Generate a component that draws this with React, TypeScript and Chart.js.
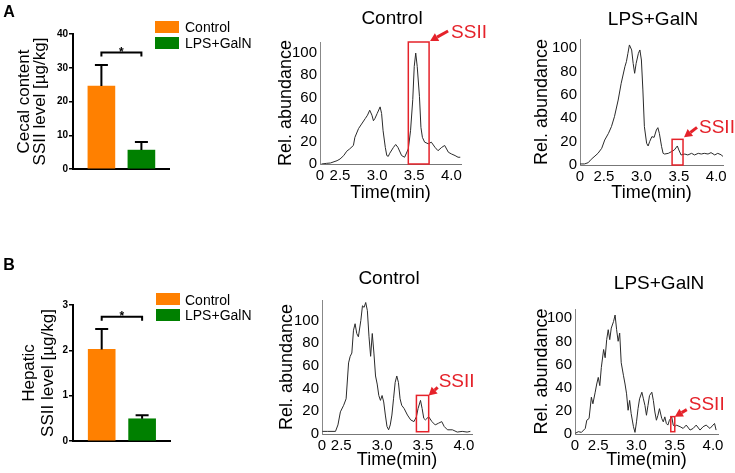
import React, { useEffect, useRef } from "react";
import { Chart, registerables } from "chart.js";

Chart.register(...registerables);

const FONT = "'Liberation Sans', Arial, Helvetica, sans-serif";
const RED = "#E5222A";
const ORANGE = "#FF8000";
const GREEN = "#008000";

// ---------- bar panels ----------
const groups = ["Control", "LPS+GalN"];
const groupPos = [1, 2];
const cecalMean = [24.6, 5.6];
const cecalErr = [6.2, 2.4];
const cecalTicks = [0, 10, 20, 30, 40];
const cecalSig = 34.5;
const hepaticMean = [2.02, 0.49];
const hepaticErr = [0.45, 0.08];
const hepaticTicks = [0, 1, 2, 3];
const hepaticSig = 2.74;

// ---------- chromatograms ----------
const timeTicks = [2.5, 3.0, 3.5, 4.0];
const abundTicks = [0, 20, 40, 60, 80, 100];

const aCtrlTime = [2.25, 2.32, 2.37, 2.46, 2.5, 2.55, 2.59, 2.63, 2.68, 2.7, 2.75, 2.79, 2.84, 2.87, 2.9, 2.93, 2.95, 2.97, 3.0, 3.04, 3.06, 3.08, 3.11, 3.13, 3.15, 3.17, 3.22, 3.25, 3.28, 3.33, 3.37, 3.42, 3.45, 3.48, 3.5, 3.52, 3.54, 3.57, 3.59, 3.61, 3.64, 3.69, 3.73, 3.78, 3.82, 3.87, 3.91, 3.96, 4.0, 4.05, 4.09, 4.12];
const aCtrlAbund = [0, 0.6, 0.9, 3, 4.5, 7.6, 11.5, 13.6, 16.7, 24, 32, 36, 41, 44, 48.5, 44, 39, 41, 45.5, 51.5, 45.5, 30, 15, 7.6, 6.9, 9.7, 15, 17.6, 15, 7.6, 6.1, 13.6, 30, 58, 88, 100, 88, 61, 33, 24, 19.7, 18.2, 19.7, 15, 12, 15, 16.7, 10.6, 9.1, 7.6, 6.1, 6.1];
const aCtrlWindow = [3.42, 3.7, 110, 0];

const aLpsTime = [2.18, 2.24, 2.29, 2.33, 2.38, 2.42, 2.47, 2.51, 2.56, 2.6, 2.64, 2.69, 2.73, 2.78, 2.8, 2.82, 2.84, 2.87, 2.89, 2.91, 2.93, 2.96, 2.98, 3.0, 3.02, 3.04, 3.07, 3.09, 3.11, 3.14, 3.17, 3.2, 3.22, 3.24, 3.27, 3.29, 3.31, 3.36, 3.4, 3.44, 3.48, 3.5, 3.53, 3.58, 3.62, 3.67, 3.71, 3.76, 3.8, 3.84, 3.89, 3.93, 3.98, 4.02, 4.07, 4.09];
const aLpsAbund = [0.9, 0.9, 2, 4.9, 7.7, 10, 14.3, 21.4, 27.1, 32.9, 41.4, 55.7, 70, 84.3, 88.6, 95.7, 102.9, 98.6, 87.1, 78.6, 87.1, 95.7, 98.6, 90, 64.3, 32.9, 18.6, 16.3, 20, 24.3, 23.7, 30, 32, 27.1, 15.7, 10, 9.4, 10, 11.4, 12.9, 16.3, 12.9, 8.6, 9.4, 8.6, 10, 8.6, 10, 9.4, 10, 9.4, 10.6, 8.6, 10, 8.6, 7.1];
const aLpsWindow = [3.41, 3.556, 22, 0];

const bCtrlTime = [2.27, 2.33, 2.43, 2.46, 2.49, 2.53, 2.56, 2.59, 2.61, 2.63, 2.65, 2.67, 2.69, 2.71, 2.74, 2.76, 2.78, 2.8, 2.82, 2.84, 2.86, 2.88, 2.9, 2.92, 2.94, 2.96, 2.98, 3.0, 3.02, 3.04, 3.06, 3.08, 3.1, 3.12, 3.14, 3.16, 3.18, 3.2, 3.22, 3.24, 3.27, 3.31, 3.35, 3.39, 3.42, 3.44, 3.47, 3.49, 3.51, 3.53, 3.57, 3.61, 3.65, 3.69, 3.73, 3.76, 3.8, 3.86, 3.92, 3.98, 4.04, 4.08];
const bCtrlAbund = [2.3, 2.3, 2.3, 8, 19.5, 25.3, 31, 62.6, 68.4, 71.3, 91.4, 97.1, 88.5, 85.6, 100, 112.9, 111.5, 115.8, 108.6, 85.6, 68.4, 88.5, 71.3, 51.1, 44, 33.9, 29.6, 33.9, 28.2, 16.7, 6.6, 3.7, 8, 16.7, 31, 45.4, 51.1, 45.4, 31, 25.3, 22.4, 16.7, 12.4, 10.9, 15.2, 22.4, 29.6, 22.4, 13.8, 12.4, 15.2, 10.9, 8, 9.5, 10.9, 6.6, 3.7, 3.7, 1.7, 2.3, 1.7, 2.3];
const bCtrlWindow = [3.42, 3.57, 34, 2];

const bLpsTime = [2.2, 2.24, 2.28, 2.33, 2.35, 2.38, 2.41, 2.43, 2.46, 2.48, 2.5, 2.52, 2.54, 2.57, 2.59, 2.61, 2.63, 2.65, 2.67, 2.7, 2.72, 2.74, 2.76, 2.78, 2.8, 2.83, 2.85, 2.87, 2.89, 2.91, 2.93, 2.96, 2.98, 3.0, 3.02, 3.04, 3.07, 3.09, 3.11, 3.13, 3.15, 3.17, 3.2, 3.22, 3.24, 3.26, 3.28, 3.3, 3.33, 3.35, 3.37, 3.39, 3.41, 3.43, 3.46, 3.48, 3.5, 3.52, 3.57, 3.61, 3.65, 3.7, 3.74, 3.78, 3.83, 3.87, 3.91, 3.96, 4.0, 4.02, 4.04];
const bLpsAbund = [0.6, 2, 1.4, 4.8, 11.9, 13.4, 31.8, 26.1, 36.1, 43.2, 48.9, 41.8, 57.4, 73, 65.9, 81.5, 90.1, 81.5, 91.5, 97.2, 102.8, 90.1, 80.1, 87.2, 61.6, 50.3, 43.2, 34.7, 20.5, 29, 17.6, 6.3, 1.4, 10.5, 21.9, 30.4, 36.1, 30.4, 24.7, 16.2, 24.7, 33.2, 36.1, 29, 19, 11.9, 16.2, 21.9, 13.4, 10.5, 14.8, 9.1, 7.7, 11.9, 14.8, 7.7, 6.3, 7.7, 6.3, 4.8, 7.7, 3.4, 4.8, 7.7, 3.4, 6.3, 7.7, 4.8, 7.7, 9.1, 3.4];
const bLpsWindow = [3.448, 3.5, 15, 2];

// ---------- layout helpers ----------
type Box = { left: number; top: number; width: number; height: number };
type Area = { left: number; top: number; right: number; bottom: number };

function layoutFor(canvas: Box, area: Area, xScaleBottom: number) {
  return {
    padding: {
      left: 0,
      top: area.top - canvas.top,
      right: canvas.left + canvas.width - area.right,
      bottom: canvas.top + canvas.height - xScaleBottom,
    },
    yW: area.left - canvas.left,
    xH: xScaleBottom - area.bottom,
  };
}

// ---------- plugins ----------
const ssiiPlugin = {
  id: "ssii",
  afterDatasetsDraw(chart: any, _args: any, opts: any) {
    const { ctx } = chart;
    const x = chart.scales.x;
    const y = chart.scales.y;
    const [t0, t1, top, bottom] = opts.win;
    const xl = x.getPixelForValue(t0);
    const xr = x.getPixelForValue(t1);
    const yt = y.getPixelForValue(top);
    const yb = y.getPixelForValue(bottom);
    ctx.save();
    ctx.strokeStyle = RED;
    ctx.lineWidth = 1.5;
    ctx.strokeRect(xl, yt, xr - xl, yb - yt);
    // arrow
    const hx = xr + opts.head[0];
    const hy = yt + opts.head[1];
    const tx = xr + opts.tail[0];
    const ty = yt + opts.tail[1];
    const ang = Math.atan2(hy - ty, hx - tx);
    const hl = 8;
    const hw = 4.5;
    const bx = hx - hl * Math.cos(ang);
    const by = hy - hl * Math.sin(ang);
    ctx.lineWidth = 3;
    ctx.lineCap = "butt";
    ctx.beginPath();
    ctx.moveTo(tx, ty);
    ctx.lineTo(bx, by);
    ctx.stroke();
    ctx.fillStyle = RED;
    ctx.beginPath();
    ctx.moveTo(hx, hy);
    ctx.lineTo(bx + hw * Math.sin(ang), by - hw * Math.cos(ang));
    ctx.lineTo(bx - hw * Math.sin(ang), by + hw * Math.cos(ang));
    ctx.closePath();
    ctx.fill();
    ctx.font = `19px ${FONT}`;
    ctx.textAlign = "left";
    ctx.textBaseline = "middle";
    ctx.fillText("SSII", xr + opts.label[0], yt + opts.label[1]);
    ctx.restore();
  },
};

const barExtras = {
  id: "barExtras",
  afterDatasetsDraw(chart: any, _args: any, opts: any) {
    const { ctx } = chart;
    const x = chart.scales.x;
    const y = chart.scales.y;
    ctx.save();
    ctx.strokeStyle = "#000";
    ctx.lineWidth = 2;
    groupPos.forEach((p, i) => {
      const cx = x.getPixelForValue(p);
      const y1 = y.getPixelForValue(opts.mean[i]);
      const y2 = y.getPixelForValue(opts.mean[i] + opts.err[i]);
      ctx.beginPath();
      ctx.moveTo(cx, y1);
      ctx.lineTo(cx, y2);
      ctx.moveTo(cx - 6.5, y2);
      ctx.lineTo(cx + 6.5, y2);
      ctx.stroke();
    });
    const xa = x.getPixelForValue(groupPos[0]);
    const xb = x.getPixelForValue(groupPos[1]);
    const ys = y.getPixelForValue(opts.sig);
    ctx.beginPath();
    ctx.moveTo(xa, ys + 4);
    ctx.lineTo(xa, ys);
    ctx.lineTo(xb, ys);
    ctx.lineTo(xb, ys + 4);
    ctx.stroke();
    ctx.fillStyle = "#000";
    ctx.font = `bold 12px ${FONT}`;
    ctx.textAlign = "center";
    ctx.textBaseline = "alphabetic";
    ctx.fillText("*", (xa + xb) / 2, ys + 3);
    ctx.restore();
  },
};

// ---------- configs ----------
function barConfig(o: any) {
  return {
    type: "bar",
    data: {
      datasets: [
        {
          label: "SSII",
          data: groupPos.map((p, i) => ({ x: p, y: o.mean[i] })),
          backgroundColor: [ORANGE, GREEN],
          borderWidth: 0,
          barThickness: 27,
        },
      ],
    },
    options: {
      responsive: false,
      animation: false,
      devicePixelRatio: 1,
      layout: { padding: o.lay.padding },
      plugins: {
        legend: { display: false },
        tooltip: { enabled: false },
        barExtras: { mean: o.mean, err: o.err, sig: o.sig },
      },
      scales: {
        x: {
          type: "linear",
          offset: false,
          min: 0.29,
          max: 2.69,
          ticks: { display: false },
          grid: { display: false, drawTicks: false },
          border: { display: true, color: "#000", width: 2 },
          afterFit: (s: any) => {
            s.height = o.lay.xH;
          },
        },
        y: {
          type: "linear",
          min: 0,
          max: o.yMax,
          afterBuildTicks: (s: any) => {
            s.ticks = o.ticks.map((v: number) => ({ value: v }));
          },
          ticks: { font: { family: FONT, size: 10, weight: "bold" }, color: "#000", padding: 1 },
          grid: { display: true, drawOnChartArea: false, drawTicks: true, tickLength: 4, color: "#000", lineWidth: 1.5 },
          border: { display: true, color: "#000", width: 2 },
          title: {
            display: true,
            text: o.title,
            color: "#000",
            font: { family: FONT, size: 17, lineHeight: o.titleLH },
            padding: { top: o.titlePad, bottom: 0 },
          },
          afterFit: (s: any) => {
            s.width = o.lay.yW;
          },
        },
      },
    },
    plugins: [barExtras],
  };
}

function chromConfig(o: any) {
  return {
    type: "line",
    data: {
      datasets: [
        {
          label: "Rel. abundance",
          data: o.time.map((t: number, i: number) => ({ x: t, y: o.abund[i] })),
          borderColor: "#2a2a2a",
          borderWidth: 1,
          pointRadius: 0,
          tension: 0,
          fill: false,
        },
      ],
    },
    options: {
      responsive: false,
      animation: false,
      devicePixelRatio: 1,
      layout: { padding: o.lay.padding },
      plugins: {
        legend: { display: false },
        tooltip: { enabled: false },
        ssii: { win: o.win, head: o.head, tail: o.tail, label: o.label },
      },
      scales: {
        x: {
          type: "linear",
          min: o.xMin,
          max: o.xMax,
          afterBuildTicks: (s: any) => {
            s.ticks = [o.xMin, ...timeTicks].map((v) => ({ value: v }));
          },
          ticks: {
            autoSkip: false,
            maxRotation: 0,
            callback: (v: any) => (v === o.xMin ? "0" : Number(v).toFixed(1)),
            font: { family: FONT, size: 15 },
            color: "#000",
            padding: 3,
          },
          grid: { display: false, drawTicks: false },
          border: { display: true, color: "#777", width: 1, dash: o.dash },
          title: {
            display: true,
            text: "Time(min)",
            color: "#000",
            font: { family: FONT, size: 18 },
            padding: { top: 0, bottom: 0 },
          },
          afterFit: (s: any) => {
            s.height = o.lay.xH;
          },
        },
        y: {
          type: "linear",
          min: 0,
          max: o.yMax,
          afterBuildTicks: (s: any) => {
            s.ticks = abundTicks.map((v) => ({ value: v }));
          },
          ticks: { font: { family: FONT, size: 15 }, color: "#000", padding: 3 },
          grid: { display: false, drawTicks: false },
          border: { display: true, color: "#888", width: 1 },
          title: {
            display: true,
            text: "Rel. abundance",
            color: "#000",
            font: { family: FONT, size: 18 },
            padding: { top: o.titlePad, bottom: 0 },
          },
          afterFit: (s: any) => {
            s.width = o.lay.yW;
          },
        },
      },
    },
    plugins: [ssiiPlugin],
  };
}

// ---------- panel definitions ----------
const barA = { left: 0, top: 0, width: 240, height: 215 };
const barB = { left: 0, top: 265, width: 240, height: 208 };
const chA1 = { left: 240, top: 0, width: 250, height: 215 };
const chA2 = { left: 490, top: 0, width: 245, height: 215 };
const chB1 = { left: 240, top: 265, width: 250, height: 208 };
const chB2 = { left: 490, top: 265, width: 245, height: 208 };

const panels = [
  {
    box: barA,
    make: () =>
      barConfig({
        mean: cecalMean,
        err: cecalErr,
        sig: cecalSig,
        ticks: cecalTicks,
        yMax: 40,
        title: ["Cecal content", "SSII level [µg/kg]"],
        titleLH: "16px",
        titlePad: 16,
        lay: layoutFor(barA, { left: 73, top: 34, right: 169, bottom: 169 }, 179),
      }),
  },
  {
    box: barB,
    make: () =>
      barConfig({
        mean: hepaticMean,
        err: hepaticErr,
        sig: hepaticSig,
        ticks: hepaticTicks,
        yMax: 3,
        title: ["Hepatic", "SSII level [µg/kg]"],
        titleLH: "19.5px",
        titlePad: 19.25,
        lay: layoutFor(barB, { left: 73, top: 305, right: 170, bottom: 441 }, 451),
      }),
  },
  {
    box: chA1,
    make: () =>
      chromConfig({
        time: aCtrlTime,
        abund: aCtrlAbund,
        win: aCtrlWindow,
        xMin: 2.23,
        xMax: 4.13,
        yMax: 110,
        dash: [1, 2],
        head: [1, -1],
        tail: [19, -11],
        label: [22, -9],
        titlePad: 35.2,
        lay: layoutFor(chA1, { left: 320, top: 42, right: 461, bottom: 164 }, 203.8),
      }),
  },
  {
    box: chA2,
    make: () =>
      chromConfig({
        time: aLpsTime,
        abund: aLpsAbund,
        win: aLpsWindow,
        xMin: 2.18,
        xMax: 4.09,
        yMax: 108,
        dash: [1, 2],
        head: [1, -2],
        tail: [14, -12],
        label: [16, -12],
        titlePad: 41.2,
        lay: layoutFor(chA2, { left: 580, top: 39, right: 723, bottom: 165 }, 203.8),
      }),
  },
  {
    box: chB1,
    make: () =>
      chromConfig({
        time: bCtrlTime,
        abund: bCtrlAbund,
        win: bCtrlWindow,
        xMin: 2.265,
        xMax: 4.1,
        yMax: 118,
        dash: [],
        head: [0, 0],
        tail: [9, -8],
        label: [10, -14],
        titlePad: 36.2,
        lay: layoutFor(chB1, { left: 322, top: 300, right: 472, bottom: 434 }, 470.8),
      }),
  },
  {
    box: chB2,
    make: () =>
      chromConfig({
        time: bLpsTime,
        abund: bLpsAbund,
        win: bLpsWindow,
        xMin: 2.196,
        xMax: 4.065,
        yMax: 108,
        dash: [1, 2],
        head: [0, 0],
        tail: [12, -7],
        label: [14, -12],
        titlePad: 41.2,
        lay: layoutFor(chB2, { left: 575, top: 309, right: 718, bottom: 434 }, 470.8),
      }),
  },
];

function ChartCanvas({ box, make }: { box: Box; make: () => any }) {
  const ref = useRef<HTMLCanvasElement>(null);
  useEffect(() => {
    const chart = new Chart(ref.current as HTMLCanvasElement, make());
    return () => chart.destroy();
  }, []);
  return (
    <canvas
      ref={ref}
      width={box.width}
      height={box.height}
      style={{ position: "absolute", left: box.left, top: box.top, width: box.width, height: box.height }}
    />
  );
}

function Txt({ x, y, size, children, align = "center", weight = "normal", color = "#000" }: any) {
  return (
    <div
      style={{
        position: "absolute",
        left: x,
        top: y,
        transform: align === "center" ? "translate(-50%, -50%)" : "translate(0, -50%)",
        fontFamily: FONT,
        fontSize: size,
        fontWeight: weight,
        lineHeight: 1,
        whiteSpace: "nowrap",
        color,
      }}
    >
      {children}
    </div>
  );
}

function Swatch({ x, y, color }: any) {
  return <div style={{ position: "absolute", left: x, top: y, width: 24, height: 12, background: color }} />;
}

export default function App() {
  return (
    <div
      style={{
        position: "fixed",
        left: 0,
        top: 0,
        width: 735,
        height: 473,
        background: "#fff",
        overflow: "hidden",
      }}
    >
      {panels.map((p, i) => (
        <ChartCanvas key={i} box={p.box} make={p.make} />
      ))}
      <Txt x={9} y={11.5} size={16} weight="bold">A</Txt>
      <Txt x={9} y={265} size={16} weight="bold">B</Txt>

      <Swatch x={155} y={21} color={ORANGE} />
      <Swatch x={155} y={37} color={GREEN} />
      <Txt x={185} y={27} size={14} align="left">{groups[0]}</Txt>
      <Txt x={185} y={43} size={14} align="left">{groups[1]}</Txt>

      <Swatch x={156} y={293} color={ORANGE} />
      <Swatch x={156} y={309} color={GREEN} />
      <Txt x={185} y={300} size={14} align="left">{groups[0]}</Txt>
      <Txt x={185} y={315} size={14} align="left">{groups[1]}</Txt>

      <Txt x={392} y={17} size={19}>Control</Txt>
      <Txt x={653} y={17.5} size={19}>LPS+GalN</Txt>
      <Txt x={389} y={277} size={19}>Control</Txt>
      <Txt x={659} y={282} size={19}>LPS+GalN</Txt>
    </div>
  );
}
